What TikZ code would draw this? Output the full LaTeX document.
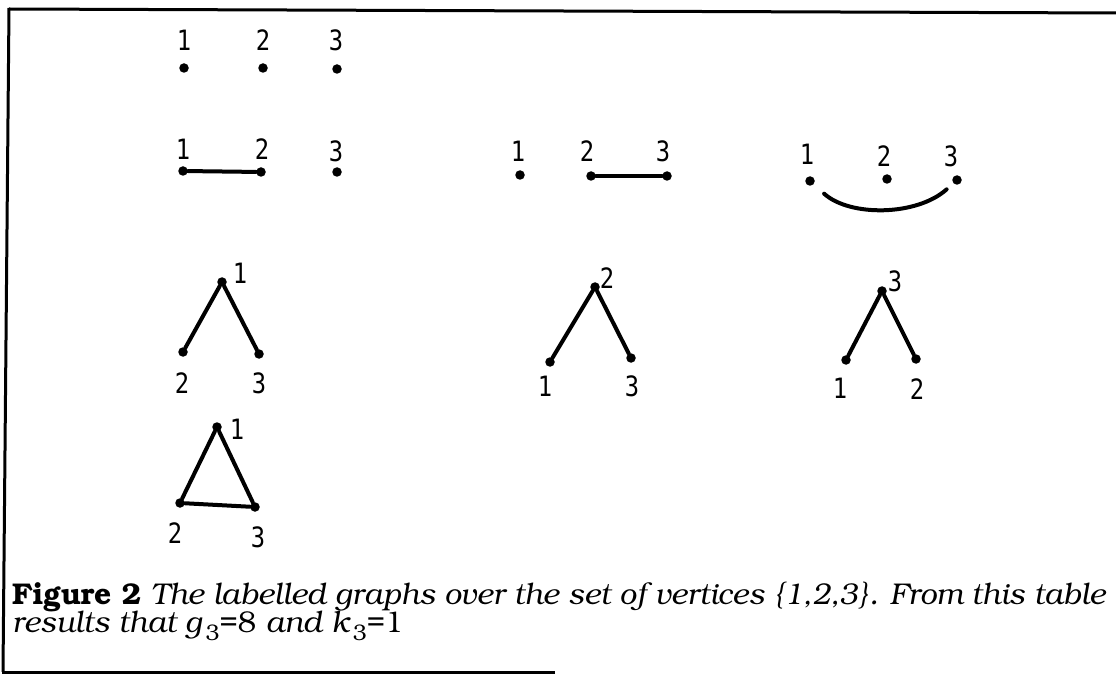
\documentclass[tikz,border=0pt]{standalone}
\usepackage[T1]{fontenc}
\usepackage{fontspec}
\usepackage{graphicx}
\newfontfamily\digitfont{DejaVu Sans Mono}
\newcommand{\capfont}{\fontencoding{T1}\fontfamily{pbk}\selectfont}
\newcommand{\lowsub}[1]{\raisebox{-0.55ex}{\upshape\fontsize{15}{15}\selectfont\,#1}}
\newcommand{\digit}[1]{\scalebox{0.85}[1]{#1}}
\newsavebox\capboxA
\newsavebox\capboxB
\begin{document}
\sbox\capboxA{\capfont\fontsize{20}{24}\selectfont{\bfseries Figure 2} \itshape The labelled graphs over the set of vertices \{1,2,3\}. From this table}%
\sbox\capboxB{\capfont\fontsize{20}{24}\selectfont\itshape results that g\lowsub{3}\upshape=8 \itshape and k\lowsub{3}\upshape=1}%
\pgfmathsetmacro\capscale{1093/\wd\capboxA}%
\begin{tikzpicture}[x=1pt,y=-1pt,
  dot/.style={circle,fill,inner sep=0pt,minimum size=9.5pt},
  lab/.style={inner sep=0pt,font=\digitfont\fontsize{28}{28}\selectfont},
  edge/.style={line width=4pt,line cap=round},
  framerule/.style={line width=3pt}]
\useasboundingbox (0,0) rectangle (1116,676);
% frame
\draw[framerule] (9,9) -- (1116,13);
\draw[framerule] (9,8) -- (3,672);
\draw[framerule] (2,672) -- (555,672);
% row 1: empty graph
\node[dot] (a1) at (184,68) {}; \node[lab] (la1) at (184,40) {\digit{1}};
\node[dot] (a2) at (263,68) {}; \node[lab] (la2) at (263,40) {\digit{2}};
\node[dot] (a3) at (337,69) {}; \node[lab] (la3) at (336,40) {\digit{3}};
% row 2 left: edge 1-2
\node[dot] (b1) at (183,171) {}; \node[lab] (lb1) at (183,149) {\digit{1}};
\node[dot] (b2) at (261,172) {}; \node[lab] (lb2) at (262,149) {\digit{2}};
\node[dot] (b3) at (337,172) {}; \node[lab] (lb3) at (336,151) {\digit{3}};
\draw[edge] (b1) -- (b2);
% row 2 middle: edge 2-3
\node[dot] (c1) at (520,175) {}; \node[lab] (lc1) at (518,151) {\digit{1}};
\node[dot] (c2) at (591,176) {}; \node[lab] (lc2) at (587,151) {\digit{2}};
\node[dot] (c3) at (667,176) {}; \node[lab] (lc3) at (663,151) {\digit{3}};
\draw[edge] (c2) -- (c3);
% row 2 right: edge 1-3 (arc)
\node[dot] (d1) at (810,181) {}; \node[lab] (ld1) at (807,154) {\digit{1}};
\node[dot] (d2) at (887,179) {}; \node[lab] (ld2) at (884,156) {\digit{2}};
\node[dot] (d3) at (957,180) {}; \node[lab] (ld3) at (951,156) {\digit{3}};
\draw[edge,shorten <=14pt,shorten >=9pt] (d1) .. controls +(40,36) and +(-40,36) .. (d3);
% row 3 left: star centred at 1
\node[dot] (e1) at (222,282) {}; \node[lab] (le1) at (240,273) {\digit{1}};
\node[dot] (e2) at (183,352) {}; \node[lab] (le2) at (182,383) {\digit{2}};
\node[dot] (e3) at (259,354) {}; \node[lab] (le3) at (259,383) {\digit{3}};
\draw[edge] (e2) -- (e1) -- (e3);
% row 3 middle: star centred at 2
\node[dot] (f2) at (595,287) {}; \node[lab] (lf2) at (607,278) {\digit{2}};
\node[dot] (f1) at (550,362) {}; \node[lab] (lf1) at (545,386) {\digit{1}};
\node[dot] (f3) at (631,358) {}; \node[lab] (lf3) at (632,386) {\digit{3}};
\draw[edge] (f1) -- (f2) -- (f3);
% row 3 right: star centred at 3
\node[dot] (g3) at (882,291) {}; \node[lab] (lg3) at (895,281) {\digit{3}};
\node[dot] (g1) at (846,360) {}; \node[lab] (lg1) at (840,388) {\digit{1}};
\node[dot] (g2) at (916,359) {}; \node[lab] (lg2) at (917,389) {\digit{2}};
\draw[edge] (g1) -- (g3) -- (g2);
% row 4: triangle
\node[dot] (h1) at (217,427) {}; \node[lab] (lh1) at (237,429) {\digit{1}};
\node[dot] (h2) at (180,503) {}; \node[lab] (lh2) at (175,533) {\digit{2}};
\node[dot] (h3) at (255,507) {}; \node[lab] (lh3) at (258,537) {\digit{3}};
\draw[edge,line join=round] (h1) -- (h2) -- (h3) -- (h1);
% caption
\node[anchor=base west,inner sep=0pt] (cap1) at (12,604) {\scalebox{\capscale}{\usebox\capboxA}};
\node[anchor=base west,inner sep=0pt] (cap2) at (12,632) {\scalebox{\capscale}{\usebox\capboxB}};
\end{tikzpicture}
\end{document}
